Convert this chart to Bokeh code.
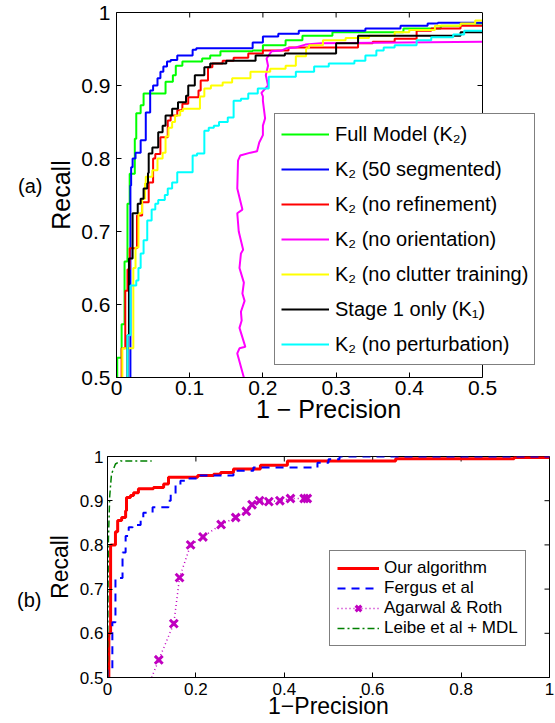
from bokeh.plotting import figure
from bokeh.models import Range1d, LinearAxis, FixedTicker, Legend, LegendItem, Span
from bokeh.embed import file_html
from bokeh.resources import INLINE

FONT = "Liberation Sans"

# ---------------- (a) data ----------------
a_xticks = [0, 0.1, 0.2, 0.3, 0.4, 0.5]
a_xlabels = ["0", "0.1", "0.2", "0.3", "0.4", "0.5"]
a_yticks = [0.5, 0.6, 0.7, 0.8, 0.9, 1]
a_ylabels = ["0.5", "0.6", "0.7", "0.8", "0.9", "1"]

full_x = [0.001, 0.007, 0.011, 0.015, 0.018, 0.025, 0.027, 0.033, 0.037, 0.067, 0.077, 0.081, 0.09,
          0.117, 0.128, 0.142, 0.186, 0.2, 0.231, 0.254, 0.295, 0.392, 0.443, 0.47, 0.5]
full_y = [0.5, 0.527, 0.573, 0.659, 0.738, 0.779, 0.827, 0.862, 0.873, 0.889, 0.905, 0.914, 0.927,
          0.933, 0.937, 0.941, 0.947, 0.948, 0.955, 0.962, 0.968, 0.973, 0.978, 0.982, 0.985]

seg_x = [0.019, 0.02, 0.022, 0.026, 0.033, 0.040, 0.046, 0.05, 0.056, 0.060, 0.064, 0.069, 0.074,
         0.083, 0.104, 0.109, 0.186, 0.2, 0.221, 0.249, 0.340, 0.388, 0.425, 0.439, 0.5]
seg_y = [0.5, 0.763, 0.788, 0.80, 0.808, 0.825, 0.863, 0.893, 0.9, 0.91, 0.919, 0.926, 0.933,
         0.935, 0.941, 0.949, 0.951, 0.959, 0.967, 0.971, 0.975, 0.978, 0.982, 0.985, 0.986]

noref_x = [0.007, 0.012, 0.015, 0.018, 0.028, 0.035, 0.044, 0.05, 0.05, 0.053, 0.06, 0.07, 0.074,
           0.083, 0.09, 0.098, 0.112, 0.115, 0.125, 0.131, 0.145, 0.160, 0.18, 0.2, 0.235, 0.33,
           0.35, 0.38, 0.41, 0.43, 0.47, 0.5]
noref_y = [0.5, 0.54, 0.619, 0.648, 0.677, 0.722, 0.74, 0.767, 0.79, 0.80, 0.806, 0.829, 0.852,
           0.859, 0.866, 0.875, 0.884, 0.893, 0.907, 0.925, 0.93, 0.934, 0.938, 0.944, 0.948, 0.952,
           0.958, 0.96, 0.964, 0.975, 0.978, 0.982]

noori_x = [0.174, 0.165, 0.168, 0.176, 0.168, 0.171, 0.17, 0.175, 0.172, 0.174, 0.168, 0.17, 0.173,
           0.167, 0.165, 0.172, 0.165, 0.166, 0.169, 0.183, 0.192, 0.195, 0.2, 0.2, 0.203, 0.2, 0.2,
           0.198, 0.207, 0.204, 0.207, 0.205, 0.212, 0.226, 0.232, 0.245, 0.258, 0.28, 0.5]
noori_y = [0.5, 0.533, 0.54, 0.542, 0.568, 0.578, 0.59, 0.605, 0.615, 0.63, 0.65, 0.67, 0.675,
           0.7, 0.725, 0.73, 0.759, 0.797, 0.804, 0.808, 0.81, 0.822, 0.832, 0.845, 0.855, 0.879,
           0.885, 0.89, 0.9, 0.914, 0.927, 0.937, 0.947, 0.948, 0.951, 0.952, 0.956, 0.958, 0.96]

noclut_x = [0.008, 0.008, 0.023, 0.026, 0.03, 0.035, 0.039, 0.04, 0.049, 0.056, 0.063, 0.067, 0.071,
            0.076, 0.08, 0.087, 0.091, 0.114, 0.12, 0.129, 0.145, 0.158, 0.183, 0.21, 0.231, 0.245,
            0.259, 0.263, 0.282, 0.313, 0.345, 0.38, 0.4, 0.435, 0.47, 0.49, 0.5]
noclut_y = [0.5, 0.527, 0.54, 0.65, 0.678, 0.725, 0.745, 0.766, 0.775, 0.784, 0.8, 0.808, 0.83,
            0.842, 0.85, 0.859, 0.865, 0.868, 0.885, 0.896, 0.9, 0.904, 0.91, 0.919, 0.923, 0.927,
            0.94, 0.951, 0.955, 0.962, 0.965, 0.968, 0.973, 0.976, 0.982, 0.985, 0.989]

stage1_x = [0.015, 0.017, 0.022, 0.029, 0.033, 0.037, 0.042, 0.043, 0.044, 0.049, 0.057, 0.063,
            0.067, 0.076, 0.084, 0.095, 0.098, 0.107, 0.12, 0.128, 0.15, 0.19, 0.23, 0.3, 0.33,
            0.38, 0.47, 0.5]
stage1_y = [0.5, 0.558, 0.663, 0.725, 0.738, 0.745, 0.759, 0.766, 0.78, 0.807, 0.815, 0.836,
            0.845, 0.859, 0.868, 0.877, 0.886, 0.9, 0.914, 0.925, 0.93, 0.934, 0.941, 0.944, 0.958,
            0.968, 0.968, 0.973]

nopert_x = [0.015, 0.019, 0.027, 0.03, 0.033, 0.037, 0.042, 0.048, 0.053, 0.057, 0.066, 0.07,
            0.076, 0.083, 0.104, 0.11, 0.12, 0.126, 0.133, 0.14, 0.152, 0.16, 0.17, 0.18, 0.193,
            0.208, 0.245, 0.27, 0.29, 0.325, 0.34, 0.355, 0.365, 0.38, 0.41, 0.43, 0.46, 0.475, 0.5]
nopert_y = [0.5, 0.558, 0.626, 0.633, 0.65, 0.67, 0.688, 0.715, 0.73, 0.738, 0.743, 0.75,
            0.759, 0.767, 0.781, 0.804, 0.807, 0.838, 0.842, 0.845, 0.85, 0.856, 0.879, 0.882,
            0.889, 0.896, 0.912, 0.919, 0.926, 0.93, 0.934, 0.941, 0.948, 0.952, 0.955, 0.962,
            0.966, 0.97, 0.975]

a_labels = ["Full Model (K\u2082)", "K\u2082 (50 segmented)", "K\u2082 (no refinement)",
            "K\u2082 (no orientation)", "K\u2082 (no clutter training)", "Stage 1 only (K\u2081)",
            "K\u2082 (no perturbation)"]
a_colors = ["#00ff00", "#0000ff", "#ff0000", "#ff00ff", "#ffff00", "#000000", "#00ffff"]

# ---------------- (b) data ----------------
b_xticks = [0, 0.2, 0.4, 0.6, 0.8, 1]
b_xlabels = ["0", "0.2", "0.4", "0.6", "0.8", "1"]
b_yticks = [0.5, 0.6, 0.7, 0.8, 0.9, 1]
b_ylabels = ["0.5", "0.6", "0.7", "0.8", "0.9", "1"]

ours_x = [0.003, 0.007, 0.018, 0.023, 0.032, 0.041, 0.043, 0.052, 0.059, 0.07, 0.104, 0.127, 0.138,
          0.204, 0.24, 0.256, 0.285, 0.346, 0.407, 0.652, 0.92, 1.0]
ours_y = [0.5, 0.6, 0.8, 0.83, 0.855, 0.862, 0.877, 0.907, 0.912, 0.918, 0.927, 0.93, 0.938,
          0.953, 0.957, 0.96, 0.964, 0.972, 0.98, 0.99, 0.995, 0.998]

fergus_x = [0.0, 0.011, 0.018, 0.034, 0.041, 0.048, 0.057, 0.075, 0.081, 0.102, 0.138, 0.143, 0.154,
            0.165, 0.176, 0.21, 0.285, 0.33, 0.475, 0.5, 0.525, 1.0]
fergus_y = [0.5, 0.516, 0.625, 0.725, 0.783, 0.82, 0.84, 0.845, 0.855, 0.873, 0.885, 0.9, 0.915,
            0.935, 0.945, 0.95, 0.957, 0.968, 0.975, 0.986, 0.994, 1.0]

agarwal_x = [0.10, 0.116, 0.15, 0.163, 0.188, 0.216, 0.257, 0.29, 0.314, 0.327, 0.344, 0.365,
             0.39, 0.414, 0.445, 0.452]
agarwal_y = [0.5, 0.54, 0.622, 0.726, 0.80, 0.818, 0.846, 0.862, 0.876, 0.891, 0.9, 0.898,
             0.9, 0.905, 0.905, 0.905]

leibe_x = [0.0, 0.002, 0.005, 0.009, 0.018, 0.03, 0.1]
leibe_y = [0.5, 0.81, 0.91, 0.96, 0.983, 0.99, 0.99]

b_labels = ["Our algorithm", "Fergus et al", "Agarwal & Roth", "Leibe et al + MDL"]

TICK = 5  # inward tick length in px


def style_axis(ax, ticks, labels, size, standoff):
    ax.ticker = FixedTicker(ticks=ticks)
    ax.major_label_overrides = {t: l for t, l in zip(ticks, labels)}
    ax.major_tick_in = TICK
    ax.major_tick_out = 0
    ax.minor_tick_in = 0
    ax.minor_tick_out = 0
    ax.axis_line_color = "black"
    ax.axis_line_width = 1
    ax.major_tick_line_color = "black"
    ax.major_label_text_font = FONT
    ax.major_label_text_color = "black"
    ax.major_label_text_font_size = size
    ax.major_label_standoff = standoff
    ax.axis_label_text_font = FONT
    ax.axis_label_text_font_style = "normal"
    ax.axis_label_text_color = "black"


def tag_axis(text, line_height, standoff):
    ax = LinearAxis(ticker=FixedTicker(ticks=[]), axis_line_color=None,
                    major_tick_line_color=None, minor_tick_line_color=None,
                    axis_label=text, axis_label_orientation="horizontal",
                    axis_label_text_font=FONT, axis_label_text_font_size="20px",
                    axis_label_text_font_style="normal", axis_label_text_color="black",
                    axis_label_text_line_height=line_height, axis_label_standoff=standoff)
    return ax


def make_fig(width, height, xr, yr, left, right, top, bottom):
    p = figure(width=width, height=height, x_range=Range1d(*xr), y_range=Range1d(*yr),
               toolbar_location=None, output_backend="svg",
               min_border_left=left, min_border_right=right,
               min_border_top=top, min_border_bottom=bottom)
    p.grid.visible = False
    p.background_fill_color = "white"
    p.border_fill_color = "white"
    return p


# ---------------- figure (a) ----------------
A_W, A_H = 555, 440
A_L, A_R, A_T, A_B = 116, 15, 12, 63
A_BOX_PX = 482 - 116
A_FRAME_W = A_W - A_L - A_R
A_FRAME_H = A_H - A_T - A_B
a_xend = a_xticks[-1] * A_FRAME_W / A_BOX_PX

pa = make_fig(A_W, A_H, (0, a_xend), (a_yticks[0], a_yticks[-1]), A_L, A_R, A_T, A_B)
pa.outline_line_color = None
style_axis(pa.xaxis[0], a_xticks, a_xlabels, "21px", 3)
pa.xaxis[0].bounds = (a_xticks[0], a_xticks[-1])
style_axis(pa.yaxis[0], a_yticks, a_ylabels, "21px", 6)
pa.xaxis[0].axis_label = "1 \u2212 Precision"
pa.xaxis[0].axis_label_text_font_size = "25px"
pa.xaxis[0].axis_label_standoff = -3
pa.yaxis[0].axis_label = "Recall"
pa.yaxis[0].axis_label_text_font_size = "25px"
pa.yaxis[0].axis_label_standoff = 3
top_a = LinearAxis(ticker=FixedTicker(ticks=[]), bounds=(a_xticks[0], a_xticks[-1]),
                   axis_line_color="black", axis_line_width=1)
pa.add_layout(top_a, "above")
pa.add_layout(tag_axis("(a)\n", 0.85, 2), "left")
pa.add_layout(Span(location=a_xticks[-1], dimension="height", line_color="black", line_width=1))

ax_px = a_xend / A_FRAME_W
ay_px = (a_yticks[-1] - a_yticks[0]) / A_FRAME_H
pa.segment(x0=a_xticks[1:-1], y0=[a_yticks[-1]] * 4, x1=a_xticks[1:-1],
           y1=[a_yticks[-1] - TICK * ay_px] * 4, line_color="black", line_width=1)
pa.segment(x0=[a_xticks[-1]] * 4, y0=a_yticks[1:-1], x1=[a_xticks[-1] - TICK * ax_px] * 4,
           y1=a_yticks[1:-1], line_color="black", line_width=1)

a_series = [(full_x, full_y, "step"), (seg_x, seg_y, "step"), (noref_x, noref_y, "step"),
            (noori_x, noori_y, "line"), (noclut_x, noclut_y, "step"), (stage1_x, stage1_y, "step"),
            (nopert_x, nopert_y, "step")]
a_items = []
for (xs, ys, kind), lab, col in zip(a_series, a_labels, a_colors):
    if kind == "step":
        r = pa.step(xs, ys, mode="before", line_color=col, line_width=2)
    else:
        r = pa.line(xs, ys, line_color=col, line_width=2)
    a_items.append(LegendItem(label=lab, renderers=[r]))

leg_a = Legend(items=a_items, location=(158, 12), label_text_font=FONT,
               label_text_font_size="20px", label_text_color="black",
               glyph_width=48, glyph_height=28, label_height=28, spacing=7, padding=6,
               margin=0, label_standoff=6, border_line_color="black", border_line_width=1.2,
               background_fill_color="white", background_fill_alpha=1)
pa.add_layout(leg_a, "center")

# ---------------- figure (b) ----------------
B_W, B_H = 555, 283
B_L, B_R, B_T, B_B = 107, 6, 16, 46
B_FRAME_W = B_W - B_L - B_R
B_FRAME_H = B_H - B_T - B_B

pb = make_fig(B_W, B_H, (b_xticks[0], b_xticks[-1]), (b_yticks[0], b_yticks[-1]), B_L, B_R, B_T, B_B)
pb.outline_line_color = "black"
pb.outline_line_width = 1
style_axis(pb.xaxis[0], b_xticks, b_xlabels, "17px", 5)
style_axis(pb.yaxis[0], b_yticks, b_ylabels, "17px", 4)
pb.xaxis[0].axis_label = "1\u2212Precision"
pb.xaxis[0].axis_label_text_font_size = "23px"
pb.xaxis[0].axis_label_standoff = -5
pb.yaxis[0].axis_label = "Recall"
pb.yaxis[0].axis_label_text_font_size = "23px"
pb.yaxis[0].axis_label_standoff = 4
pb.add_layout(tag_axis("\n\n(b)", 1.5, 2), "left")

bx_px = (b_xticks[-1] - b_xticks[0]) / B_FRAME_W
by_px = (b_yticks[-1] - b_yticks[0]) / B_FRAME_H
pb.segment(x0=b_xticks[1:-1], y0=[b_yticks[-1]] * 4, x1=b_xticks[1:-1],
           y1=[b_yticks[-1] - TICK * by_px] * 4, line_color="black", line_width=1)
pb.segment(x0=[b_xticks[-1]] * 4, y0=b_yticks[1:-1], x1=[b_xticks[-1] - TICK * bx_px] * 4,
           y1=b_yticks[1:-1], line_color="black", line_width=1)

r_ours = pb.step(ours_x, ours_y, mode="before", line_color="#ff0000", line_width=3)
r_fer = pb.step(fergus_x, fergus_y, mode="before", line_color="#0000ff", line_width=2,
                line_dash="8 6")
r_aga = pb.line(agarwal_x, agarwal_y, line_color="#c000c0", line_width=1.5, line_dash="1 3")
r_agm = pb.scatter(agarwal_x[1:], agarwal_y[1:], marker="x", size=11, line_color="#c000c0",
                   line_width=3)
r_lei = pb.line(leibe_x, leibe_y, line_color="#008000", line_width=1.5, line_dash="7 3 2 3")

leg_b = Legend(items=[LegendItem(label=b_labels[0], renderers=[r_ours]),
                      LegendItem(label=b_labels[1], renderers=[r_fer]),
                      LegendItem(label=b_labels[2], renderers=[r_aga, r_agm]),
                      LegendItem(label=b_labels[3], renderers=[r_lei])],
               location=(222, 31), label_text_font=FONT, label_text_font_size="17px",
               label_text_color="black", glyph_width=42, glyph_height=20, label_height=20,
               spacing=0, padding=7, margin=0, label_standoff=5, border_line_color="black",
               border_line_width=1.2, background_fill_color="white", background_fill_alpha=1)
pb.add_layout(leg_b, "center")

open("out.html", "w").write(file_html([pa, pb], INLINE))
